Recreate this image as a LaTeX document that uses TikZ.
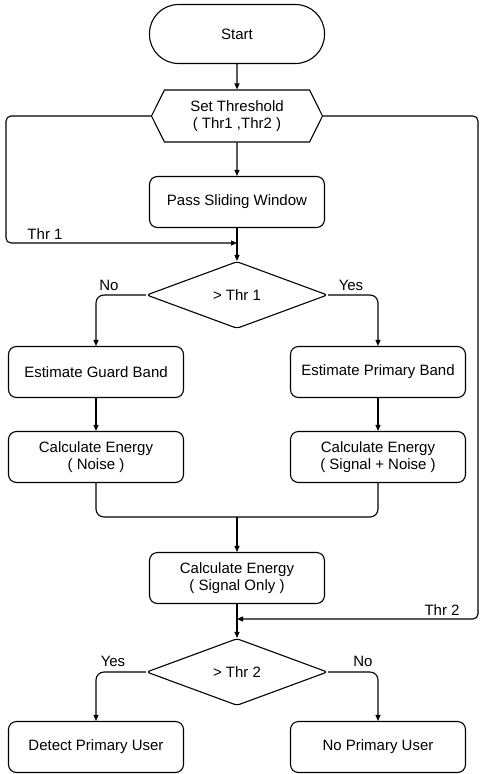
\documentclass[tikz,border=0pt]{standalone}
\usepackage{fontspec}
\setmainfont{Liberation Sans}
\usetikzlibrary{shapes.geometric, shapes.symbols, arrows.meta}

\begin{document}
\begin{tikzpicture}[x=1pt, y=1pt, line width=1.1pt,
  font=\fontsize{15}{17}\selectfont,
  box/.style={draw, rounded corners=8pt, minimum width=175pt, minimum height=51pt, align=center, inner sep=2pt},
  term/.style={draw, rounded corners=29pt, minimum width=175pt, minimum height=59pt},
  prep/.style={draw, signal, signal to=east and west, signal pointer angle=127, minimum width=171pt, minimum height=52pt, align=center, inner sep=2pt},
  dec/.style={draw, diamond, aspect=2.7, rounded corners=3pt, minimum width=181pt, minimum height=67pt, inner sep=0pt},
  arr/.style={-{Triangle[length=6pt,width=5pt]}},
  lab/.style={inner sep=1pt}]
  \useasboundingbox (0,0) rectangle (480,-774);

  \node (start) [term] at (237,-34) {Start};
  \node (thr) [prep] at (237,-116) {Set Threshold\\( Thr1 ,Thr2 )};
  \node (win) [box] at (237,-202) {Pass Sliding Window};
  \node (d1) [dec] at (237,-295) {> Thr 1};
  \node (guard) [box] at (96,-372) {Estimate Guard Band};
  \node (prim) [box] at (378,-372) {Estimate Primary Band};
  \node (en) [box] at (96,-457) {Calculate Energy\\( Noise )};
  \node (esn) [box] at (378,-457) {Calculate Energy\\( Signal + Noise )};
  \node (eso) [box] at (237,-578) {Calculate Energy\\( Signal Only )};
  \node (d2) [dec] at (237,-672) {> Thr 2};
  \node (det) [box] at (96,-747) {Detect Primary User};
  \node (nopu) [box] at (378,-747) {No Primary User};

  \coordinate (j1) at (237,-243);
  \coordinate (l1) at (6,-243);
  \coordinate (j2) at (237,-619);
  \coordinate (r2) at (478,-619);
  \coordinate (m) at (237,-517);

  % main line
  \draw [arr] (start) -- (thr);
  \draw [arr] (thr) -- (win);
  \draw [arr] (win) -- (d1);
  \draw [arr, rounded corners=5pt] (thr.west) -| (l1) -- (j1);
  \draw [arr, rounded corners=5pt] (thr.east) -| (r2) -- (j2);

  % first decision
  \draw [arr, rounded corners=8pt] (d1.west) -| (guard.north);
  \draw [arr, rounded corners=8pt] (d1.east) -| (prim.north);
  \draw [arr] (guard) -- (en);
  \draw [arr] (prim) -- (esn);
  \draw [rounded corners=8pt] (en.south) |- (m) -| (esn.south);
  \draw [arr] (m) -- (eso);

  % second decision
  \draw [arr] (eso) -- (d2);
  \draw [arr, rounded corners=8pt] (d2.west) -| (det.north);
  \draw [arr, rounded corners=8pt] (d2.east) -| (nopu.north);

  \node (t1) [lab] at (45,-234) {Thr 1};
  \node (t2) [lab] at (442,-610) {Thr 2};
  \node (no1) [lab] at (109,-285) {No};
  \node (yes1) [lab] at (351,-285) {Yes};
  \node (yes2) [lab] at (113,-661) {Yes};
  \node (no2) [lab] at (363,-661) {No};
\end{tikzpicture}
\end{document}
